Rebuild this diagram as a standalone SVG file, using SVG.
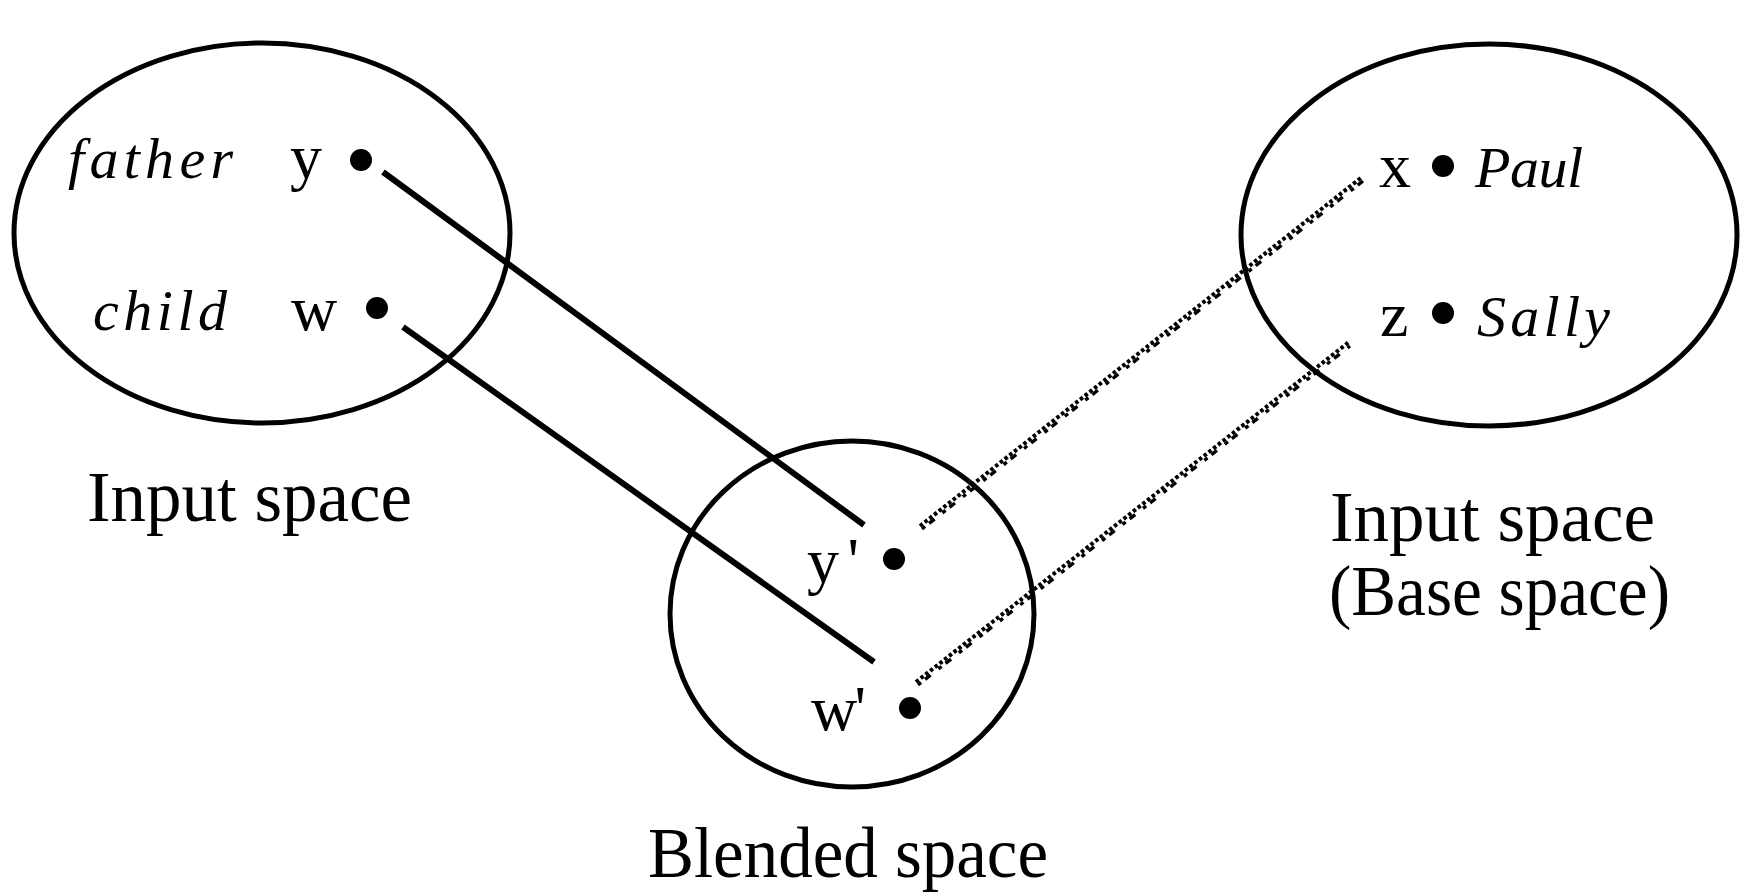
<svg xmlns="http://www.w3.org/2000/svg" width="1748" height="895" viewBox="0 0 1748 895">
<style>
.sp{fill:none;stroke:#000;stroke-width:5}
.dot{fill:#000}
.t{font-family:"Liberation Serif","Times New Roman",serif;fill:#000}
.var{font-size:64px}
.it{font-size:58px;font-style:italic}
.lbl{font-size:72px}
.solid{stroke:#000;stroke-width:6;fill:none}
.dotted{stroke:#000;stroke-width:4;stroke-dasharray:3.5 2.5;fill:none}
.tick{stroke:#000;stroke-width:3.4;stroke-dasharray:4 5 7 10;fill:none}
</style>
<rect width="1748" height="895" fill="#fff"/>
<g id="connectors">
  <line class="solid" x1="383" y1="172" x2="864" y2="525"/>
  <line class="solid" x1="403" y1="327" x2="874" y2="662"/>
  <line class="dotted" x1="920" y1="526" x2="1362" y2="177"/>
  <line class="tick" x1="922" y1="529" x2="1363" y2="181"/>
  <line class="dotted" x1="916" y1="682" x2="1349" y2="342"/>
  <line class="tick" x1="918" y1="685" x2="1350" y2="346"/>
</g>
<g id="input-left">
  <ellipse class="sp" cx="262" cy="233" rx="248" ry="190"/>
  <text class="t it" x="68" y="178" textLength="165" lengthAdjust="spacing">father</text>
  <text class="t var" x="290" y="178">y</text>
  <circle class="dot" cx="361" cy="160" r="11"/>
  <text class="t it" x="93" y="330" textLength="134" lengthAdjust="spacing">child</text>
  <text class="t var" x="291" y="330">w</text>
  <circle class="dot" cx="377" cy="308" r="11"/>
  <text class="t lbl" x="87" y="521" textLength="325" lengthAdjust="spacingAndGlyphs">Input space</text>
</g>
<g id="input-right">
  <ellipse class="sp" cx="1489" cy="235" rx="248" ry="191"/>
  <text class="t var" x="1379" y="187">x</text>
  <circle class="dot" cx="1443" cy="166" r="11"/>
  <text class="t it" x="1475" y="187" textLength="108" lengthAdjust="spacing">Paul</text>
  <text class="t var" x="1380" y="336">z</text>
  <circle class="dot" cx="1443" cy="313" r="11"/>
  <text class="t it" x="1477" y="336" textLength="133" lengthAdjust="spacing">Sally</text>
  <text class="t lbl" x="1330" y="541" textLength="325" lengthAdjust="spacingAndGlyphs">Input space</text>
  <text class="t lbl" x="1329" y="615" textLength="341" lengthAdjust="spacingAndGlyphs">(Base space)</text>
</g>
<g id="blended">
  <ellipse class="sp" cx="852" cy="614" rx="182" ry="173"/>
  <text class="t var" x="807" y="582" textLength="52" lengthAdjust="spacing">y'</text>
  <circle class="dot" cx="894" cy="559" r="11"/>
  <text class="t var" x="811" y="730" textLength="55" lengthAdjust="spacing">w'</text>
  <circle class="dot" cx="910" cy="708" r="11"/>
  <text class="t lbl" x="648" y="877" textLength="400" lengthAdjust="spacingAndGlyphs">Blended space</text>
</g>
</svg>
